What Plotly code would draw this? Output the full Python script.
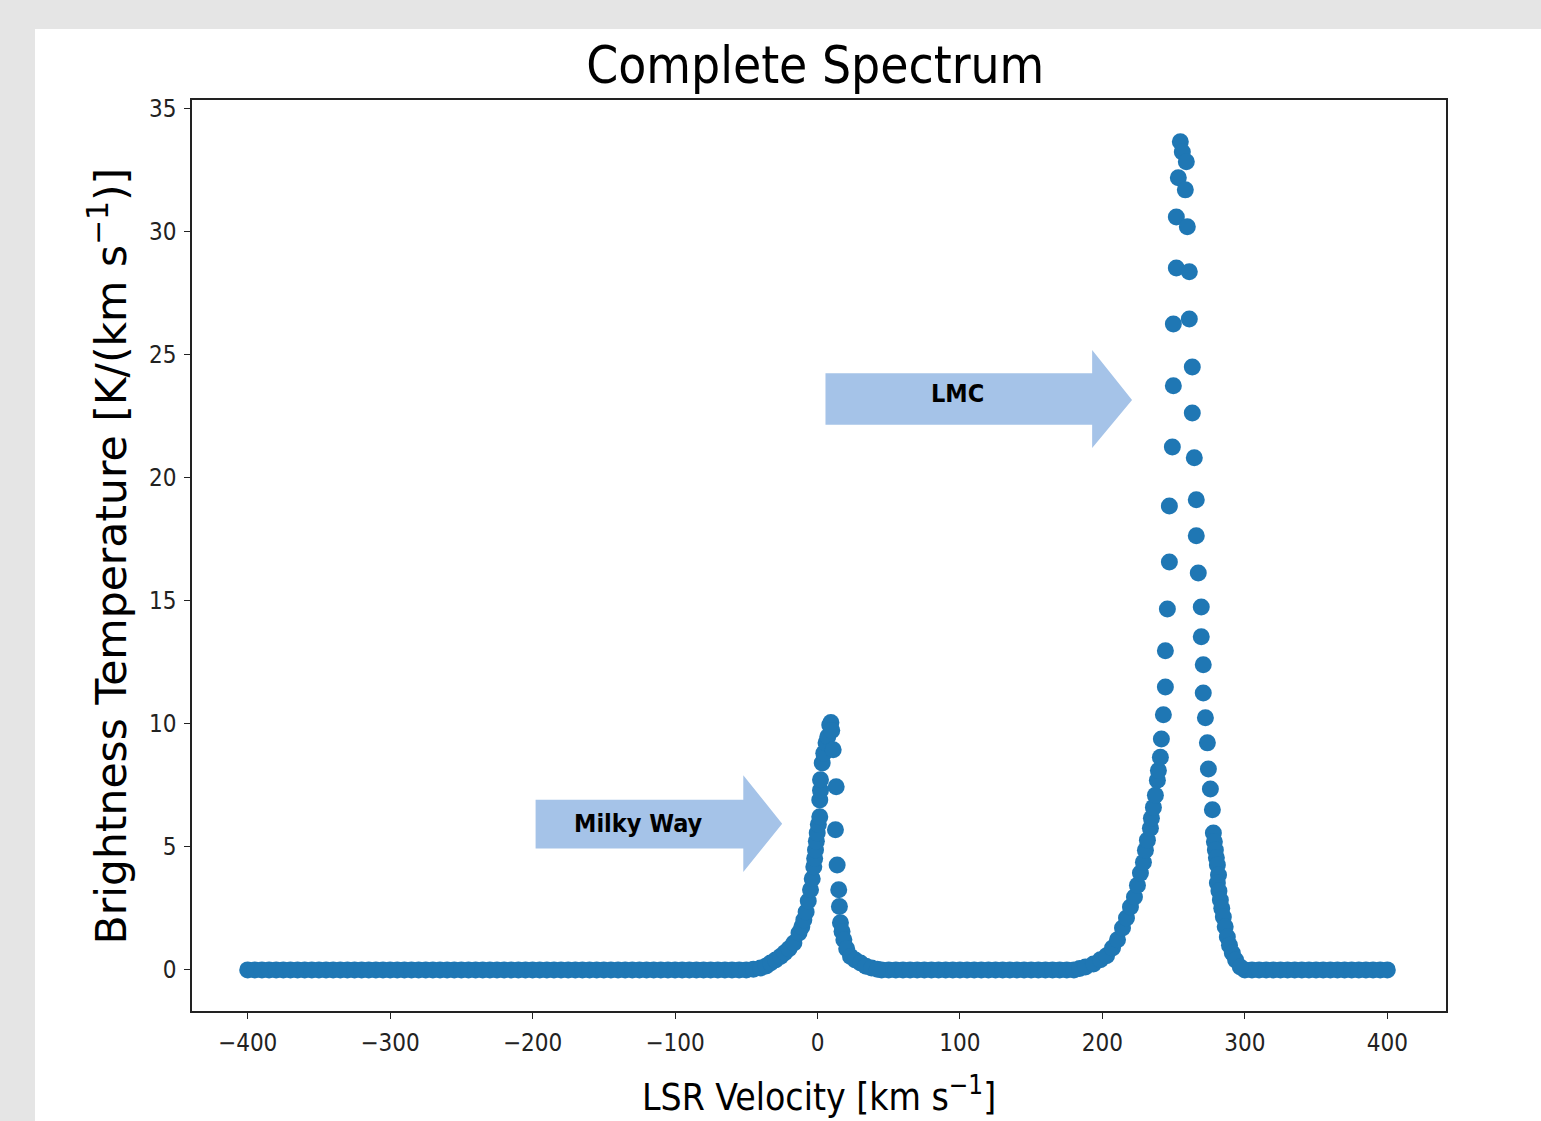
import plotly.graph_objects as go

# ---------------- data ----------------
# flat continuum channels (brightness ~ 0)
baseline_v = [
    -400, -395, -390, -385, -380, -375, -370, -365, -360, -355,
    -350, -345, -340, -335, -330, -325, -320, -315, -310, -305,
    -300, -295, -290, -285, -280, -275, -270, -265, -260, -255,
    -250, -245, -240, -235, -230, -225, -220, -215, -210, -205,
    -200, -195, -190, -185, -180, -175, -170, -165, -160, -155,
    -150, -145, -140, -135, -130, -125, -120, -115, -110, -105,
    -100, -95, -90, -85, -80, -75, -70, -65, -60, -55,
    -50,
    45, 50, 55, 60, 65, 70, 75, 80, 85, 90,
    95, 100, 105, 110, 115, 120, 125, 130, 135, 140,
    145, 150, 155, 160, 165, 170, 175, 180,
    300, 305, 310, 315, 320, 325, 330, 335, 340, 345,
    350, 355, 360, 365, 370, 375, 380, 385, 390, 395,
    400,
]
baseline_T = [
    0, 0, 0, 0, 0, 0, 0, 0, 0, 0,
    0, 0, 0, 0, 0, 0, 0, 0, 0, 0,
    0, 0, 0, 0, 0, 0, 0, 0, 0, 0,
    0, 0, 0, 0, 0, 0, 0, 0, 0, 0,
    0, 0, 0, 0, 0, 0, 0, 0, 0, 0,
    0, 0, 0, 0, 0, 0, 0, 0, 0, 0,
    0, 0, 0, 0, 0, 0, 0, 0, 0, 0,
    0,
    0, 0, 0, 0, 0, 0, 0, 0, 0, 0,
    0, 0, 0, 0, 0, 0, 0, 0, 0, 0,
    0, 0, 0, 0, 0, 0, 0, 0,
    0, 0, 0, 0, 0, 0, 0, 0, 0, 0,
    0, 0, 0, 0, 0, 0, 0, 0, 0, 0,
    0,
]

# Milky Way emission line
milky_way_v = [
    -45.0, -40.0, -36.0, -33.0, -29.5, -26.0, -23.0, -20.0, -16.6, -13.0,
    -11.0, -9.6, -8.0, -6.5, -4.9, -3.7, -2.6, -2.0, -1.4, -0.8,
    -0.2, 0.6, 1.6, 1.6, 2.1, 2.1, 3.3, 4.4, 6.0, 7.2,
    8.6, 9.4, 10.0, 11.0, 13.1, 12.6, 13.8, 14.9, 15.4, 16.1,
    17.2, 18.5, 20.5, 23.2, 26.5, 30.2, 34.0, 38.0, 42.0,
]
milky_way_T = [
    0.03, 0.08, 0.16, 0.28, 0.40, 0.54, 0.70, 0.86, 1.09, 1.50,
    1.75, 2.03, 2.35, 2.80, 3.25, 3.70, 4.19, 4.52, 4.87, 5.22,
    5.56, 5.90, 6.22, 6.90, 7.30, 7.72, 8.40, 8.80, 9.22, 9.47,
    9.95, 10.05, 9.72, 8.94, 7.44, 5.69, 4.26, 3.25, 2.57, 1.91,
    1.56, 1.22, 0.86, 0.54, 0.40, 0.28, 0.15, 0.08, 0.03,
]

# LMC emission line
lmc_v = [
    184.0, 188.1, 193.7, 198.6, 202.9, 207.1, 210.6, 214.1, 216.9, 219.7,
    222.5, 224.6, 226.7, 228.8, 230.2, 231.6, 233.7, 234.4, 235.8, 237.2,
    238.6, 239.3, 240.7, 241.4, 242.8, 244.2, 244.2, 245.6, 247.0, 247.0,
    249.1, 249.8, 249.8, 251.9, 251.9, 253.3, 254.7, 256.1, 258.9, 258.2,
    259.6, 261.0, 261.0, 263.1, 263.1, 264.5, 265.9, 265.9, 267.3, 269.4,
    269.4, 270.8, 270.8, 272.3, 273.7, 274.4, 275.8, 277.2, 277.9, 278.6,
    279.3, 280.0, 280.7, 281.5, 280.7, 281.8, 282.8, 283.8, 284.9, 286.2,
    287.7, 289.2, 291.2, 293.5, 296.8,
]
lmc_T = [
    0.06, 0.12, 0.24, 0.41, 0.57, 0.89, 1.22, 1.70, 2.11, 2.55,
    2.96, 3.44, 3.93, 4.37, 4.86, 5.27, 5.75, 6.16, 6.60, 7.09,
    7.70, 8.10, 8.64, 9.38, 10.36, 11.49, 12.96, 14.66, 16.57, 18.84,
    21.24, 23.72, 26.23, 28.51, 30.58, 32.17, 33.63, 33.22, 32.82, 31.68,
    30.18, 28.35, 26.44, 24.49, 22.62, 20.80, 19.09, 17.63, 16.12, 14.74,
    13.53, 12.39, 11.25, 10.24, 9.22, 8.16, 7.35, 6.50, 5.56, 5.20,
    4.87, 4.55, 4.26, 3.85, 3.53, 3.20, 2.84, 2.50, 2.15, 1.75,
    1.34, 1.00, 0.69, 0.40, 0.12,
]

x_ticks = [-400, -300, -200, -100, 0, 100, 200, 300, 400]
y_ticks = [0, 5, 10, 15, 20, 25, 30, 35]

labels = ["Milky Way", "LMC"]
label_v = [-125.6, 98.2]
label_T = [5.95, 23.4]

# ---------------- styling ----------------
BLUE = "#1f77b4"
ARROW = "#a5c3e8"
COND = "DejaVu Sans Condensed, Liberation Sans Narrow, DejaVu Sans, sans-serif"
REG = "DejaVu Sans, sans-serif"

velocity = baseline_v + milky_way_v + lmc_v
brightness = baseline_T + milky_way_T + lmc_T

fig = go.Figure()
fig.add_trace(go.Scatter(
    x=velocity, y=brightness, mode="markers",
    marker=dict(color=BLUE, size=17, line=dict(width=0)),
    showlegend=False, hoverinfo="x+y",
))


def arrow_path(x0, x1, xt, yb0, yb1, yh0, yh1, yt):
    return (f"M {x0},{yb1} L {x1},{yb1} L {x1},{yh1} L {xt},{yt} "
            f"L {x1},{yh0} L {x1},{yb0} L {x0},{yb0} Z")


shapes = [
    # white panel over grey page
    dict(type="rect", xref="paper", yref="paper", x0=-0.1252, x1=1.3,
         y0=-0.4, y1=1.0779, fillcolor="white", line=dict(width=0),
         layer="below"),
    # Milky Way arrow
    dict(type="path", xref="x", yref="y",
         path=arrow_path(-197.9, -52.1, -24.8, 4.93, 6.91, 3.98, 7.90, 5.94),
         fillcolor=ARROW, line=dict(width=0), layer="above"),
    # LMC arrow
    dict(type="path", xref="x", yref="y",
         path=arrow_path(5.6, 192.8, 220.8, 22.14, 24.23, 21.20, 25.18, 23.15),
         fillcolor=ARROW, line=dict(width=0), layer="above"),
]

annotations = []
for txt, xv, yv in zip(labels, label_v, label_T):
    annotations.append(dict(
        x=xv, y=yv, xref="x", yref="y", text=f"<b>{txt}</b>",
        showarrow=False, xanchor="center", yanchor="middle",
        font=dict(family=COND, size=25, color="black"),
    ))
annotations.append(dict(
    x=0.5, y=-0.0915, xref="paper", yref="paper",
    text="LSR Velocity [km s<sup>−1</sup>]", showarrow=False,
    xanchor="center", yanchor="middle",
    font=dict(family=COND, size=37, color="black"),
))
annotations.append(dict(
    x=-0.067, y=0.5, xref="paper", yref="paper",
    text="Brightness Temperature [K/(km s<sup>−1</sup>)]", showarrow=False,
    textangle=-90, xanchor="center", yanchor="middle",
    font=dict(family=REG, size=42.5, color="black"),
))

axis_common = dict(
    showgrid=False, zeroline=False, showline=True, linecolor="#222",
    linewidth=1.6, mirror=True, ticks="outside", ticklen=6, tickwidth=1.4,
    tickcolor="#222", tickfont=dict(family=COND, size=24, color="#222"),
    ticklabelstandoff=3,
)

fig.update_layout(
    width=1541, height=1121,
    margin=dict(l=192, r=95, t=100, b=110),
    paper_bgcolor="#e5e5e5", plot_bgcolor="white",
    title=dict(text="Complete Spectrum", x=0.497, xref="paper",
               xanchor="center", y=1 - 65 / 1121, yanchor="middle",
               yref="container",
               font=dict(family=COND, size=51, color="black")),
    xaxis=dict(range=[-439.1, 441.2], tickvals=x_ticks, **axis_common),
    yaxis=dict(range=[-1.67, 35.33], tickvals=y_ticks, **axis_common),
    shapes=shapes, annotations=annotations,
)

fig.write_html(
    "out.html",
    config={"displayModeBar": False},
    post_script=("document.body.style.margin='0';"
                 "document.body.style.padding='0';"
                 "document.body.style.overflow='hidden';"
                 "document.body.style.background='#e5e5e5';"),
)
